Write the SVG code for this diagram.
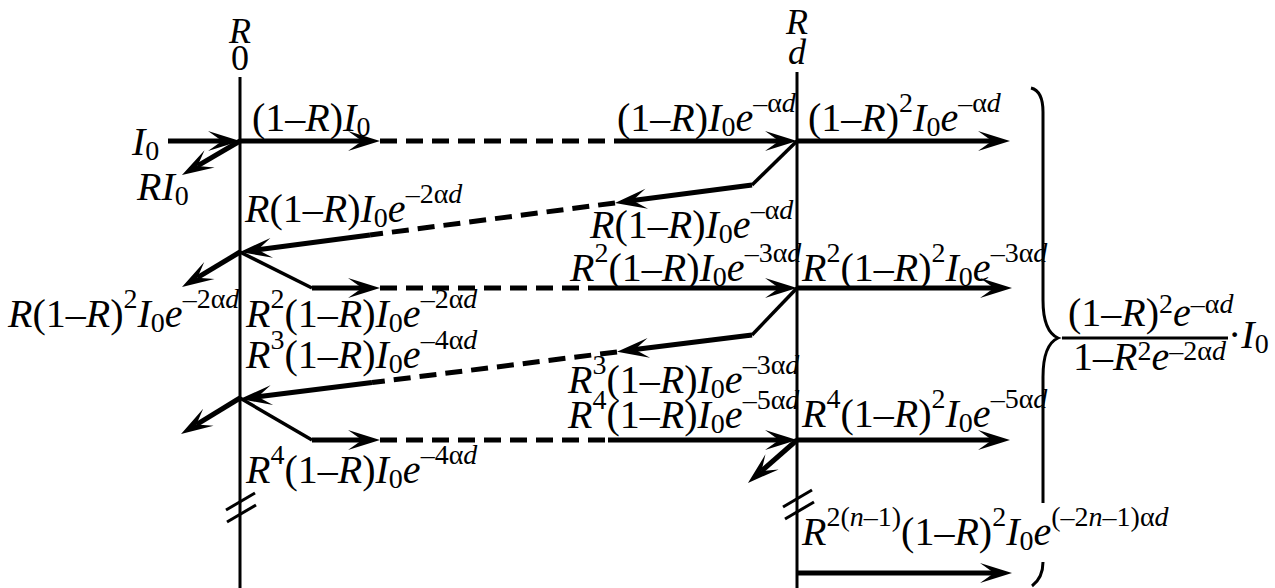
<svg xmlns="http://www.w3.org/2000/svg" width="1275" height="588" viewBox="0 0 1275 588">
<style>
text{font-family:"Liberation Serif","Times New Roman",serif;font-size:40px;fill:#000}
.i{font-style:italic}
.s{font-size:28px}
.top{font-size:36px}
.mirror{stroke:#000;stroke-width:3;fill:none}
.beam{stroke:#000;stroke-width:5;fill:none}
.thin{stroke:#000;stroke-width:3.5;fill:none}
.dash{stroke:#000;stroke-width:5;fill:none;stroke-dasharray:17 9}
.arr{marker-end:url(#ah)}
</style>
<defs>
<marker id="ah" markerUnits="userSpaceOnUse" viewBox="0 -12 33 24" refX="14" refY="0" markerWidth="33" markerHeight="24" orient="auto" overflow="visible">
<path d="M0,-10 L32,0 L0,10 L14,0 Z" fill="#000"/>
</marker>
</defs>
<rect width="1275" height="588" fill="#fff"/>
<g id="mirror-left">
<line class="mirror" x1="240" y1="77" x2="240" y2="588"/>
<line class="mirror" x1="226" y1="510" x2="255" y2="493"/>
<line class="mirror" x1="227" y1="522" x2="256" y2="505"/>
<text class="top i" x="240" y="43" text-anchor="middle">R</text>
<text class="top" x="240" y="70" text-anchor="middle">0</text>
</g>
<g id="mirror-right">
<line class="mirror" x1="797" y1="72" x2="797" y2="588"/>
<line class="mirror" x1="783" y1="507" x2="812" y2="490"/>
<line class="mirror" x1="785" y1="519" x2="814" y2="502"/>
<text class="top i" x="797" y="34" text-anchor="middle">R</text>
<text class="top i" x="797" y="64" text-anchor="middle">d</text>
</g>
<g id="connectors">
<line class="beam arr" x1="168" y1="141" x2="222" y2="141"/>
<line class="beam arr" x1="240" y1="141" x2="362" y2="141"/>
<line class="dash" x1="380" y1="141" x2="618" y2="141"/>
<line class="beam arr" x1="618" y1="141" x2="779" y2="141"/>
<line class="beam arr" x1="797" y1="141" x2="992" y2="141"/>
<line class="beam arr" x1="240" y1="141" x2="197.5" y2="165.9"/>
<line class="thin" x1="797" y1="141" x2="752" y2="185"/>
<line class="beam arr" x1="752" y1="185" x2="632.8" y2="200.6"/>
<line class="dash" x1="615" y1="202.9" x2="370" y2="235"/>
<line class="beam arr" x1="370" y1="235" x2="257.8" y2="249.7"/>
<line class="beam arr" x1="240" y1="252" x2="197.4" y2="277.7"/>
<line class="thin" x1="240" y1="252" x2="312" y2="288"/>
<line class="beam arr" x1="312" y1="288" x2="362" y2="288"/>
<line class="dash" x1="380" y1="288" x2="605" y2="288"/>
<line class="beam arr" x1="605" y1="288" x2="779" y2="288"/>
<line class="beam arr" x1="797" y1="288" x2="994" y2="288"/>
<line class="thin" x1="797" y1="288" x2="752" y2="335"/>
<line class="beam arr" x1="752" y1="335" x2="634.9" y2="349.6"/>
<line class="dash" x1="617" y1="351.9" x2="372" y2="382.5"/>
<line class="beam arr" x1="372" y1="382.5" x2="257.9" y2="396.8"/>
<line class="beam arr" x1="240" y1="398" x2="196.4" y2="424.6"/>
<line class="thin" x1="240" y1="398" x2="312" y2="440"/>
<line class="beam arr" x1="312" y1="440" x2="362" y2="440"/>
<line class="dash" x1="380" y1="440" x2="608" y2="440"/>
<line class="beam arr" x1="608" y1="440" x2="779" y2="440"/>
<line class="beam arr" x1="797" y1="440" x2="992" y2="440"/>
<line class="beam arr" x1="797" y1="440" x2="761.5" y2="471.1"/>
<line class="beam arr" x1="797" y1="573" x2="994" y2="573"/>
</g>
<g id="labels">
<text x="132" y="155"><tspan class="i">I</tspan><tspan class="s" dy="5">0</tspan></text>
<text x="137" y="200"><tspan class="i">RI</tspan><tspan class="s" dy="5">0</tspan></text>
<text x="252" y="131">(1–<tspan class="i">R</tspan>)<tspan class="i">I</tspan><tspan class="s" dy="5">0</tspan></text>
<text x="617" y="131">(1–<tspan class="i">R</tspan>)<tspan class="i">I</tspan><tspan class="s" dy="5">0</tspan><tspan class="i" dy="-5">e</tspan><tspan class="s" dy="-19">–α<tspan class="i">d</tspan></tspan></text>
<text x="808" y="131">(1–<tspan class="i">R</tspan>)<tspan class="s" dy="-19">2</tspan><tspan class="i" dy="19">I</tspan><tspan class="s" dy="5">0</tspan><tspan class="i" dy="-5">e</tspan><tspan class="s" dy="-19">–α<tspan class="i">d</tspan></tspan></text>
<text x="245" y="222"><tspan class="i">R</tspan>(1–<tspan class="i">R</tspan>)<tspan class="i">I</tspan><tspan class="s" dy="5">0</tspan><tspan class="i" dy="-5">e</tspan><tspan class="s" dy="-19">–2α<tspan class="i">d</tspan></tspan></text>
<text x="590" y="238"><tspan class="i">R</tspan>(1–<tspan class="i">R</tspan>)<tspan class="i">I</tspan><tspan class="s" dy="5">0</tspan><tspan class="i" dy="-5">e</tspan><tspan class="s" dy="-19">–α<tspan class="i">d</tspan></tspan></text>
<text x="570" y="281"><tspan class="i">R</tspan><tspan class="s" dy="-19">2</tspan><tspan dy="19">(1–</tspan><tspan class="i">R</tspan>)<tspan class="i">I</tspan><tspan class="s" dy="5">0</tspan><tspan class="i" dy="-5">e</tspan><tspan class="s" dy="-19">–3α<tspan class="i">d</tspan></tspan></text>
<text x="802" y="281"><tspan class="i">R</tspan><tspan class="s" dy="-19">2</tspan><tspan dy="19">(1–</tspan><tspan class="i">R</tspan>)<tspan class="s" dy="-19">2</tspan><tspan class="i" dy="19">I</tspan><tspan class="s" dy="5">0</tspan><tspan class="i" dy="-5">e</tspan><tspan class="s" dy="-19">–3α<tspan class="i">d</tspan></tspan></text>
<text x="8" y="327"><tspan class="i">R</tspan>(1–<tspan class="i">R</tspan>)<tspan class="s" dy="-19">2</tspan><tspan class="i" dy="19">I</tspan><tspan class="s" dy="5">0</tspan><tspan class="i" dy="-5">e</tspan><tspan class="s" dy="-19">–2α<tspan class="i">d</tspan></tspan></text>
<text x="246" y="327"><tspan class="i">R</tspan><tspan class="s" dy="-19">2</tspan><tspan dy="19">(1–</tspan><tspan class="i">R</tspan>)<tspan class="i">I</tspan><tspan class="s" dy="5">0</tspan><tspan class="i" dy="-5">e</tspan><tspan class="s" dy="-19">–2α<tspan class="i">d</tspan></tspan></text>
<text x="246" y="368"><tspan class="i">R</tspan><tspan class="s" dy="-19">3</tspan><tspan dy="19">(1–</tspan><tspan class="i">R</tspan>)<tspan class="i">I</tspan><tspan class="s" dy="5">0</tspan><tspan class="i" dy="-5">e</tspan><tspan class="s" dy="-19">–4α<tspan class="i">d</tspan></tspan></text>
<text x="568" y="393"><tspan class="i">R</tspan><tspan class="s" dy="-19">3</tspan><tspan dy="19">(1–</tspan><tspan class="i">R</tspan>)<tspan class="i">I</tspan><tspan class="s" dy="5">0</tspan><tspan class="i" dy="-5">e</tspan><tspan class="s" dy="-19">–3α<tspan class="i">d</tspan></tspan></text>
<text x="568" y="428"><tspan class="i">R</tspan><tspan class="s" dy="-19">4</tspan><tspan dy="19">(1–</tspan><tspan class="i">R</tspan>)<tspan class="i">I</tspan><tspan class="s" dy="5">0</tspan><tspan class="i" dy="-5">e</tspan><tspan class="s" dy="-19">–5α<tspan class="i">d</tspan></tspan></text>
<text x="802" y="427"><tspan class="i">R</tspan><tspan class="s" dy="-19">4</tspan><tspan dy="19">(1–</tspan><tspan class="i">R</tspan>)<tspan class="s" dy="-19">2</tspan><tspan class="i" dy="19">I</tspan><tspan class="s" dy="5">0</tspan><tspan class="i" dy="-5">e</tspan><tspan class="s" dy="-19">–5α<tspan class="i">d</tspan></tspan></text>
<text x="246" y="483"><tspan class="i">R</tspan><tspan class="s" dy="-19">4</tspan><tspan dy="19">(1–</tspan><tspan class="i">R</tspan>)<tspan class="i">I</tspan><tspan class="s" dy="5">0</tspan><tspan class="i" dy="-5">e</tspan><tspan class="s" dy="-19">–4α<tspan class="i">d</tspan></tspan></text>
<text x="802" y="545"><tspan class="i">R</tspan><tspan class="s" dy="-19">2(<tspan class="i">n</tspan>–1)</tspan><tspan dy="19">(1–</tspan><tspan class="i">R</tspan>)<tspan class="s" dy="-19">2</tspan><tspan class="i" dy="19">I</tspan><tspan class="s" dy="5">0</tspan><tspan class="i" dy="-5">e</tspan><tspan class="s" dy="-19">(–2<tspan class="i">n</tspan>–1)α<tspan class="i">d</tspan></tspan></text>
</g>
<g id="sum">
<path class="mirror" d="M1031,88 C1039,90 1043,98 1043,112 L1043,300 C1043,322 1049,334 1058,338 C1049,342 1043,354 1043,377 L1043,503"/>
<path class="mirror" d="M1043,562 C1043,572 1040,580 1032,586"/>
<line class="mirror" x1="1062" y1="338" x2="1228" y2="338"/>
<text x="1068" y="326">(1–<tspan class="i">R</tspan>)<tspan class="s" dy="-13">2</tspan><tspan class="i" dy="13">e</tspan><tspan class="s" dy="-13">–α<tspan class="i">d</tspan></tspan></text>
<text x="1073" y="370">1–<tspan class="i">R</tspan><tspan class="s" dy="-10">2</tspan><tspan class="i" dy="10">e</tspan><tspan class="s" dy="-10">–2α<tspan class="i">d</tspan></tspan></text>
<text x="1228" y="348">·<tspan class="i">I</tspan><tspan class="s" dy="5">0</tspan></text>
</g>
</svg>
